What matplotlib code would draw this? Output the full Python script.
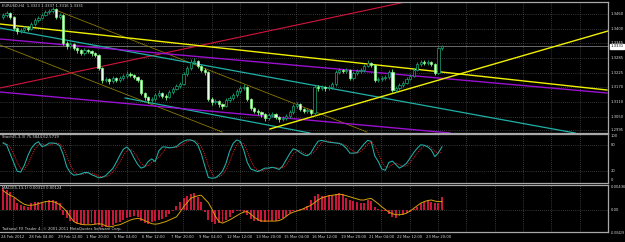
"""MT4-style EURUSD H4 chart: candles + trendlines, Stochastic and MACD panes."""
import matplotlib
matplotlib.use("Agg")
import matplotlib.pyplot as plt
from matplotlib import font_manager
from matplotlib.transforms import blended_transform_factory

W, H = 625, 242

# ---- data (bar index 0 = 24 Feb 2012) ----
FIRST_OPEN = 1.3450
CLOSES = [1.3456, 1.3464, 1.3448, 1.3404, 1.3392, 1.3396, 1.3404, 1.3400, 1.3420, 1.3436,
          1.3444, 1.3456, 1.3468, 1.3472, 1.3480, 1.3448, 1.3456, 1.3344, 1.3332, 1.3340,
          1.3324, 1.3316, 1.3304, 1.3316, 1.3312, 1.3304, 1.3296, 1.3244, 1.3196, 1.3200,
          1.3192, 1.3204, 1.3196, 1.3204, 1.3212, 1.3220, 1.3216, 1.3208, 1.3196, 1.3144,
          1.3128, 1.3116, 1.3120, 1.3136, 1.3144, 1.3132, 1.3128, 1.3148, 1.3160, 1.3172,
          1.3180, 1.3220, 1.3244, 1.3268, 1.3272, 1.3252, 1.3236, 1.3228, 1.3120, 1.3108,
          1.3112, 1.3100, 1.3092, 1.3116, 1.3124, 1.3136, 1.3152, 1.3164, 1.3168, 1.3120,
          1.3084, 1.3072, 1.3068, 1.3060, 1.3044, 1.3056, 1.3060, 1.3048, 1.3040, 1.3044,
          1.3052, 1.3068, 1.3092, 1.3100, 1.3080, 1.3072, 1.3076, 1.3064, 1.3168, 1.3164,
          1.3168, 1.3164, 1.3168, 1.3180, 1.3228, 1.3236, 1.3232, 1.3236, 1.3204, 1.3224,
          1.3232, 1.3236, 1.3252, 1.3264, 1.3256, 1.3196, 1.3200, 1.3204, 1.3208, 1.3228,
          1.3156, 1.3164, 1.3176, 1.3184, 1.3200, 1.3212, 1.3236, 1.3260, 1.3268, 1.3264,
          1.3268, 1.3260, 1.3224, 1.3323, 1.3331]
HIGHS = [1.3466, 1.3472, 1.3470, 1.3452, 1.3410, 1.3404, 1.3412, 1.3412, 1.3428, 1.3444,
         1.3452, 1.3464, 1.3478, 1.3482, 1.3488, 1.3486, 1.3464, 1.3460, 1.3352, 1.3348,
         1.3344, 1.3330, 1.3320, 1.3324, 1.3322, 1.3316, 1.3310, 1.3300, 1.3248, 1.3210,
         1.3206, 1.3212, 1.3210, 1.3212, 1.3222, 1.3232, 1.3228, 1.3222, 1.3214, 1.3200,
         1.3150, 1.3134, 1.3128, 1.3146, 1.3156, 1.3150, 1.3140, 1.3156, 1.3168, 1.3182,
         1.3190, 1.3228, 1.3252, 1.3280, 1.3284, 1.3278, 1.3258, 1.3244, 1.3232, 1.3128,
         1.3120, 1.3118, 1.3106, 1.3124, 1.3134, 1.3146, 1.3162, 1.3174, 1.3180, 1.3172,
         1.3124, 1.3090, 1.3080, 1.3074, 1.3066, 1.3064, 1.3070, 1.3064, 1.3054, 1.3052,
         1.3062, 1.3076, 1.3100, 1.3110, 1.3104, 1.3086, 1.3086, 1.3080, 1.3176, 1.3178,
         1.3176, 1.3174, 1.3176, 1.3190, 1.3236, 1.3246, 1.3242, 1.3244, 1.3240, 1.3232,
         1.3240, 1.3246, 1.3262, 1.3276, 1.3270, 1.3262, 1.3210, 1.3214, 1.3216, 1.3236,
         1.3240, 1.3172, 1.3184, 1.3192, 1.3208, 1.3220, 1.3244, 1.3268, 1.3278, 1.3276,
         1.3276, 1.3272, 1.3264, 1.3328, 1.3337]
LOWS = [1.3440, 1.3448, 1.3440, 1.3396, 1.3380, 1.3384, 1.3390, 1.3392, 1.3396, 1.3414,
        1.3430, 1.3440, 1.3452, 1.3462, 1.3466, 1.3440, 1.3440, 1.3336, 1.3322, 1.3326,
        1.3316, 1.3306, 1.3296, 1.3298, 1.3304, 1.3294, 1.3288, 1.3236, 1.3186, 1.3188,
        1.3182, 1.3186, 1.3188, 1.3190, 1.3198, 1.3206, 1.3208, 1.3200, 1.3188, 1.3136,
        1.3118, 1.3106, 1.3108, 1.3114, 1.3130, 1.3124, 1.3118, 1.3124, 1.3142, 1.3156,
        1.3166, 1.3176, 1.3214, 1.3238, 1.3260, 1.3244, 1.3228, 1.3218, 1.3112, 1.3098,
        1.3100, 1.3090, 1.3082, 1.3088, 1.3110, 1.3118, 1.3130, 1.3146, 1.3156, 1.3112,
        1.3076, 1.3064, 1.3058, 1.3050, 1.3034, 1.3038, 1.3048, 1.3040, 1.3030, 1.3032,
        1.3036, 1.3046, 1.3062, 1.3084, 1.3072, 1.3064, 1.3064, 1.3056, 1.3058, 1.3154,
        1.3156, 1.3154, 1.3156, 1.3160, 1.3174, 1.3222, 1.3224, 1.3226, 1.3196, 1.3198,
        1.3218, 1.3226, 1.3230, 1.3248, 1.3248, 1.3188, 1.3188, 1.3194, 1.3198, 1.3202,
        1.3148, 1.3150, 1.3158, 1.3170, 1.3180, 1.3196, 1.3208, 1.3232, 1.3254, 1.3256,
        1.3258, 1.3252, 1.3216, 1.3220, 1.3316]

STOCH_MAIN = [84, 80, 60, 40, 20, 18, 33, 55, 72, 82,
              87, 76, 78, 84, 84, 83, 78, 58, 30, 17,
              11, 12, 14, 17, 17, 12, 9, 5, 6, 10,
              18, 26, 40, 56, 70, 75, 66, 50, 36, 27,
              30, 42, 48, 42, 66, 75, 75, 73, 74, 76,
              83, 88, 91, 91, 88, 80, 60, 32, 6, 4,
              5, 11, 20, 38, 65, 83, 91, 88, 68, 40,
              25, 22, 19, 23, 27, 27, 29, 27, 24, 32,
              46, 60, 71, 68, 62, 57, 55, 62, 76, 88,
              90, 88, 86, 85, 84, 83, 79, 72, 61, 61,
              62, 72, 82, 90, 88, 55, 42, 25, 22, 40,
              43, 35, 27, 32, 38, 50, 62, 72, 80, 79,
              75, 68, 53, 62, 75.6]
STOCH_SIGNAL = [86, 83, 75, 60, 40, 26, 24, 35, 53, 70,
                80, 82, 80, 79, 82, 84, 82, 73, 55, 35,
                19, 13, 12, 14, 16, 15, 13, 9, 7, 7,
                11, 18, 28, 41, 55, 67, 70, 64, 51, 38,
                31, 33, 40, 44, 52, 61, 72, 74, 74, 74,
                78, 82, 87, 90, 90, 86, 76, 57, 33, 14,
                5, 7, 12, 23, 41, 62, 80, 87, 82, 65,
                44, 29, 22, 21, 23, 26, 28, 28, 27, 28,
                34, 46, 59, 66, 67, 62, 58, 58, 64, 75,
                85, 89, 88, 86, 85, 84, 82, 78, 71, 65,
                61, 65, 72, 81, 87, 78, 62, 41, 30, 29,
                35, 39, 35, 31, 32, 40, 50, 61, 71, 77,
                78, 74, 65, 61, 62.6]

MACD_HIST = [0.0041, 0.0038, 0.0035, 0.0022, 0.0013, 0.0009, 0.0008, 0.0006, 0.0013, 0.0015,
             0.0016, 0.0016, 0.0018, 0.0019, 0.0019, 0.0017, 0.0013, -0.0009, -0.0016, -0.0021,
             -0.0023, -0.0027, -0.0028, -0.0028, -0.0027, -0.0025, -0.0026, -0.0028, -0.0032, -0.0032,
             -0.0031, -0.0028, -0.0025, -0.0022, -0.0019, -0.0015, -0.0013, -0.0011, -0.0013, -0.0021,
             -0.0025, -0.0026, -0.0023, -0.0021, -0.0019, -0.0017, -0.0013, -0.0008, -0.0002, 0.0008,
             0.0016, 0.0022, 0.0027, 0.0031, 0.0032, 0.0025, 0.0016, -0.0004, -0.0019, -0.0023,
             -0.0026, -0.0025, -0.0023, -0.0019, -0.0013, -0.0006, -0.0002, -0.0001, -0.0003, -0.0009,
             -0.0017, -0.0020, -0.0021, -0.0022, -0.0023, -0.0022, -0.0021, -0.0020, -0.0017, -0.0015,
             -0.0011, -0.0006, -0.0002, -0.0001, 0.0002, 0.0004, 0.0008, 0.0019, 0.0027, 0.0030,
             0.0027, 0.0026, 0.0028, 0.0028, 0.0031, 0.0032, 0.0030, 0.0022, 0.0019, 0.0017,
             0.0016, 0.0013, 0.0013, 0.0019, 0.0017, 0.0006, 0.0002, -0.0002, -0.0002, -0.0007,
             -0.0013, -0.0016, -0.0011, -0.0009, -0.0006, -0.0003, 0.0002, 0.0006, 0.0013, 0.0016,
             0.0019, 0.0016, 0.0013, 0.0013, 0.0025]
MACD_SIGNAL = [0.0037, 0.0032, 0.0028, 0.0025, 0.0020, 0.0015, 0.0011, 0.0009, 0.0009, 0.0010,
               0.0012, 0.0014, 0.0016, 0.0016, 0.0016, 0.0014, 0.0010, 0.0004, -0.0003, -0.0013,
               -0.0022, -0.0025, -0.0027, -0.0028, -0.0028, -0.0028, -0.0027, -0.0026, -0.0027, -0.0030,
               -0.0032, -0.0031, -0.0029, -0.0028, -0.0025, -0.0022, -0.0019, -0.0017, -0.0016, -0.0017,
               -0.0020, -0.0023, -0.0026, -0.0027, -0.0026, -0.0024, -0.0022, -0.0019, -0.0016, -0.0013,
               -0.0004, 0.0006, 0.0014, 0.0022, 0.0025, 0.0027, 0.0028, 0.0021, 0.0014, 0.0002,
               -0.0012, -0.0022, -0.0025, -0.0022, -0.0019, -0.0015, -0.0011, -0.0007, -0.0004, -0.0003,
               -0.0008, -0.0014, -0.0018, -0.0021, -0.0021, -0.0021, -0.0021, -0.0021, -0.0020, -0.0017,
               -0.0012, -0.0007, -0.0004, -0.0002, 0.0000, 0.0003, 0.0006, 0.0009, 0.0014, 0.0019,
               0.0023, 0.0025, 0.0027, 0.0028, 0.0029, 0.0030, 0.0029, 0.0027, 0.0025, 0.0023,
               0.0021, 0.0019, 0.0019, 0.0021, 0.0022, 0.0017, 0.0012, 0.0006, 0.0001, -0.0004,
               -0.0007, -0.0009, -0.0009, -0.0008, -0.0006, -0.0002, 0.0003, 0.0008, 0.0013, 0.0016,
               0.0018, 0.0019, 0.0017, 0.0016, 0.0016]

TIME_LABELS = ["24 Feb 2012", "28 Feb 04:00", "29 Feb 12:00", "1 Mar 20:00", "5 Mar 04:00",
               "6 Mar 12:00", "7 Mar 20:00", "9 Mar 04:00", "12 Mar 12:00", "13 Mar 20:00",
               "15 Mar 04:00", "16 Mar 12:00", "19 Mar 20:00", "21 Mar 04:00", "22 Mar 12:00",
               "23 Mar 20:00"]
PRICE_TICKS = [1.3460, 1.3400, 1.3345, 1.3285, 1.3225, 1.3170, 1.3110, 1.3050, 1.2995]
STOCH_TICKS = [100, 80, 20, 0]
MACD_TICKS = [0.00436, 0.0, -0.00429]
MACD_TICK_LABELS = ["0.00436", "0.00", "-0.00429"]
BID = 1.3331

# trendlines as (bar, price) anchor pairs
RED_LINE = [(-0.85, 1.3164), (113.6, 1.3508)]
YELLOW_DOWN = [(-0.85, 1.3420), (170.6, 1.3156)]
YELLOW_UP = [(75.4, 1.3000), (170.9, 1.3392)]
CYAN_UPPER = [(-0.85, 1.3404), (161.6, 1.2984)]
CYAN_LOWER = [(34.5, 1.3124), (86.7, 1.2984)]
PURPLE_UPPER = [(-0.85, 1.3360), (170.6, 1.3144)]
PURPLE_LOWER = [(-0.85, 1.3148), (126.3, 1.2984)]
OLIVE_UPPER = [(14.1, 1.3480), (102.8, 1.2988)]
OLIVE_LOWER = [(-0.85, 1.3336), (61.9, 1.2988)]

# ---- style ----
BG = "black"
FRAME = "#a8a8a8"
GRID = "#6a6a6a"
TXT = "#d8d8d8"
_names = {f.name for f in font_manager.fontManager.ttflist}
FONT = ["Liberation Sans Narrow", "DejaVu Sans"] if "Liberation Sans Narrow" in _names \
    else ["DejaVu Sans"]
FS = 3.5 if FONT[0] == "Liberation Sans Narrow" else 2.7
plt.rcParams["font.family"] = FONT
XLIM = (-0.85, 170.9)


def panel(fig, top, bottom):
    ax = fig.add_axes([0, 1 - bottom / H, 608 / W, (bottom - top) / H])
    ax.set_facecolor(BG)
    ax.set_xlim(*XLIM)
    ax.set_xticks([])
    ax.set_yticks([])
    for s in ax.spines.values():
        s.set_color(FRAME)
        s.set_linewidth(0.9)
    ax.spines["left"].set_visible(False)
    # vertical grid halfway between time labels
    k = 0
    while 8 * k + 2.9 < XLIM[1]:
        ax.axvline(8 * k + 2.9, color=GRID, lw=0.5, ls=(0, (1, 2)), zorder=0)
        k += 1
    return ax


def right_labels(ax, values, texts, size=None):
    tr = blended_transform_factory(ax.transAxes, ax.transData)
    for v, t in zip(values, texts):
        ax.text(1.004, v, t, transform=tr, color=TXT, fontsize=size or FS,
                va="center", ha="left", clip_on=False)


fig = plt.figure(figsize=(W / 100, H / 100), dpi=100, facecolor=BG)

# ---- main price pane ----
ax = panel(fig, 2, 133)
ax.set_ylim(1.2984, 1.3508)
for p in PRICE_TICKS:
    ax.axhline(p, color=GRID, lw=0.5, ls=(0, (1, 2)), zorder=0)
right_labels(ax, PRICE_TICKS, [f"{p:.4f}" for p in PRICE_TICKS])

for pts, col, lw in [(OLIVE_UPPER, "#8c7a00", 0.6), (OLIVE_LOWER, "#8c7a00", 0.6),
                     (RED_LINE, "#d4143c", 0.8), (CYAN_UPPER, "#1fb0a8", 0.9),
                     (CYAN_LOWER, "#1fb0a8", 0.9), (PURPLE_UPPER, "#9a10d0", 1.0),
                     (PURPLE_LOWER, "#9a10d0", 1.0), (YELLOW_DOWN, "#f0f000", 1.0),
                     (YELLOW_UP, "#f0f000", 1.0)]:
    ax.plot([pts[0][0], pts[1][0]], [pts[0][1], pts[1][1]], color=col, lw=lw, zorder=2)

ax.axhline(BID, color="#7a7a7a", lw=0.6, zorder=1)

# candles: each bar opens at the previous close
opens = [FIRST_OPEN] + CLOSES[:-1]
idx = list(range(len(CLOSES)))
for i, o, h, l, c in zip(idx, opens, HIGHS, LOWS, CLOSES):
    up = c >= o
    col = "#19a878" if up else "#7dff7d"
    ax.vlines(i, l, h, color=col, lw=0.6, zorder=3)
    body = max(abs(c - o), 0.00012)
    ax.bar(i, body, bottom=min(o, c), width=0.62,
           facecolor="black" if up else "#eaffea", edgecolor=col, lw=0.5, zorder=4)

ax.text(0.004, 0.985, "EURUSD,H4  1.3323 1.3337 1.3316 1.3331", transform=ax.transAxes,
        color=TXT, fontsize=FS, va="top", ha="left")
tr = blended_transform_factory(ax.transAxes, ax.transData)
ax.text(1.004, BID, "1.3331", transform=tr, color="black", fontsize=FS, va="center",
        ha="left", clip_on=False, zorder=6,
        bbox=dict(boxstyle="square,pad=0.2", facecolor="white", edgecolor="white"))

# ---- stochastic pane ----
ax2 = panel(fig, 134, 183)
ax2.set_ylim(-6.8, 104.5)
for v in (80, 20):
    ax2.axhline(v, color=GRID, lw=0.5, ls=(0, (1, 2)), zorder=0)
ax2.plot(idx, STOCH_SIGNAL, color="#e0202a", lw=0.6, ls=(0, (1.5, 1.2)), zorder=2)
ax2.plot(idx, STOCH_MAIN, color="#20b2aa", lw=0.75, zorder=3)
right_labels(ax2, STOCH_TICKS, [str(v) for v in STOCH_TICKS])
ax2.text(0.004, 0.97, "Stoch(5,3,3) 75.5844 62.5719", transform=ax2.transAxes,
         color=TXT, fontsize=FS, va="top", ha="left")

# ---- MACD pane ----
ax3 = panel(fig, 185, 232)
ax3.set_ylim(-0.00418, 0.00475)
ax3.axhline(0, color=GRID, lw=0.5, ls=(0, (1, 2)), zorder=0)
ax3.bar(idx, MACD_HIST, width=0.55, color="#c8183a", zorder=2)
ax3.plot(idx, MACD_SIGNAL, color="#d4a20a", lw=0.7, zorder=3)
right_labels(ax3, MACD_TICKS[:2], MACD_TICK_LABELS[:2])
right_labels(ax3, MACD_TICKS[2:], MACD_TICK_LABELS[2:], size=FS * 0.85)
ax3.text(0.004, 0.97, "MACD(5,13,1) 0.00313 0.00124", transform=ax3.transAxes,
         color=TXT, fontsize=FS, va="top", ha="left")
ax3.text(0.004, 0.03, "Tadawul FX Trader 4, \u00a9 2001-2011 MetaQuotes Software Corp.",
         transform=ax3.transAxes, color=TXT, fontsize=FS, va="bottom", ha="left")

# time axis labels under the last pane
trx = blended_transform_factory(ax3.transData, ax3.transAxes)
for k, lab in enumerate(TIME_LABELS):
    ax3.text(8 * k - 0.6, -0.11, lab, transform=trx, color=TXT, fontsize=FS,
             va="center", ha="left", clip_on=False)

fig.savefig("out.png", dpi=100, facecolor=BG)
